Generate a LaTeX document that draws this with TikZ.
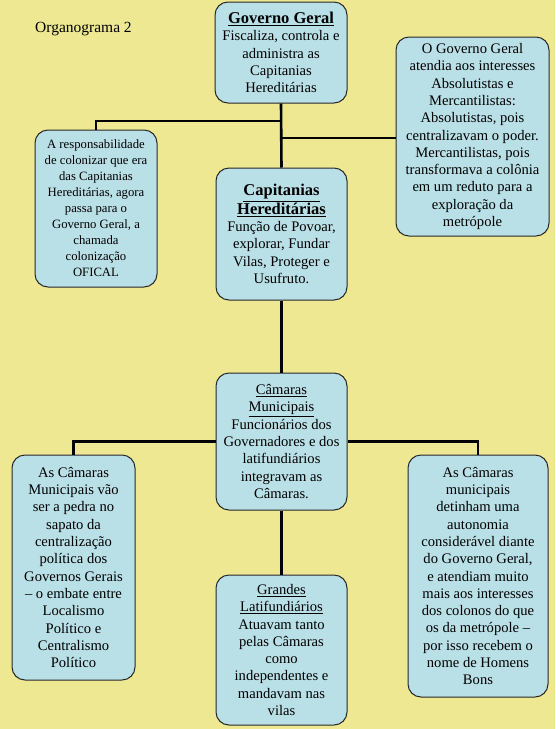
\documentclass[tikz,border=0pt]{standalone}
\usepackage{fontspec}
\setmainfont{Liberation Serif}
\definecolor{bg}{RGB}{238,232,146}
\definecolor{boxfill}{RGB}{185,223,231}
\definecolor{boxline}{RGB}{40,40,40}
\begin{document}
\begin{tikzpicture}[x=1pt,y=1pt,
  box/.style={draw=boxline,line width=1pt,fill=boxfill,rounded corners=13pt,
    align=center,inner sep=1pt,font=\fontsize{14.6}{17.3}\selectfont},
  conn/.style={draw=black,line width=2.6pt}]
\fill[bg] (0,0) rectangle (555,-729);
\useasboundingbox (0,0) rectangle (555,-729);
\node[font=\fontsize{15.5}{18}\selectfont,anchor=west,inner sep=0pt] (title) at (35,-29) {Organograma 2};

\node[box,minimum width=132,minimum height=101] (gg) at (281,-52.5)
  {{\fontsize{16.5}{18}\selectfont\bfseries\underline{Governo Geral}}\\Fiscaliza, controla e\\administra as\\Capitanias\\Hereditárias};
\node[box,minimum width=153,minimum height=199] (rb) at (472.5,-136.5)
  {O Governo Geral\\atendia aos interesses\\Absolutistas e\\Mercantilistas:\\Absolutistas, pois\\centralizavam o poder.\\Mercantilistas, pois\\transformava a colônia\\em um reduto para a\\exploração da\\metrópole};
\node[box,minimum width=122,minimum height=157,font=\fontsize{12.7}{16}\selectfont] (lb) at (96,-208.5)
  {A responsabilidade\\de colonizar que era\\das Capitanias\\Hereditárias, agora\\passa para o\\Governo Geral, a\\chamada\\colonização\\OFICAL};
\node[box,minimum width=131,minimum height=132] (cap) at (281.5,-234)
  {{\fontsize{16.5}{19}\selectfont\bfseries\underline{Capitanias}}\\[1pt]{\fontsize{16.5}{19}\selectfont\bfseries\underline{Hereditárias}}\\Função de Povoar,\\explorar, Fundar\\Vilas, Proteger e\\Usufruto.};
\node[box,minimum width=131,minimum height=137] (cam) at (281.5,-441.5)
  {\underline{Câmaras}\\\underline{Municipais}\\Funcionários dos\\Governadores e dos\\latifundiários\\integravam as\\Câmaras.};
\node[box,minimum width=123,minimum height=225] (bl) at (73.5,-567.5)
  {As Câmaras\\Municipais vão\\ser a pedra no\\sapato da\\centralização\\política dos\\Governos Gerais\\– o embate entre\\Localismo\\Político e\\Centralismo\\Político};
\node[box,minimum width=131,minimum height=150] (gl) at (281.5,-650)
  {\underline{Grandes}\\\underline{Latifundiários}\\Atuavam tanto\\pelas Câmaras\\como\\independentes e\\mandavam nas\\vilas};
\node[box,minimum width=140,minimum height=242] (br) at (478,-576)
  {As Câmaras\\municipais\\detinham uma\\autonomia\\considerável diante\\do Governo Geral,\\e atendiam muito\\mais aos interesses\\dos colonos do que\\os da metrópole –\\por isso recebem o\\nome de Homens\\Bons};

\coordinate (j1) at (282,-121);
\coordinate (j2) at (282,-138);
\draw[conn] (gg.south) -- (cap.north);
\draw[conn] (lb.north) |- (j1);
\draw[conn] (j2) -- (rb.west |- j2);
\draw[conn] (cap.south) -- (cam.north);
\draw[conn] (cam.west) -| (bl.north);
\draw[conn] (cam.east) -| (br.north);
\draw[conn] (cam.south) -- (gl.north);
\end{tikzpicture}
\end{document}
